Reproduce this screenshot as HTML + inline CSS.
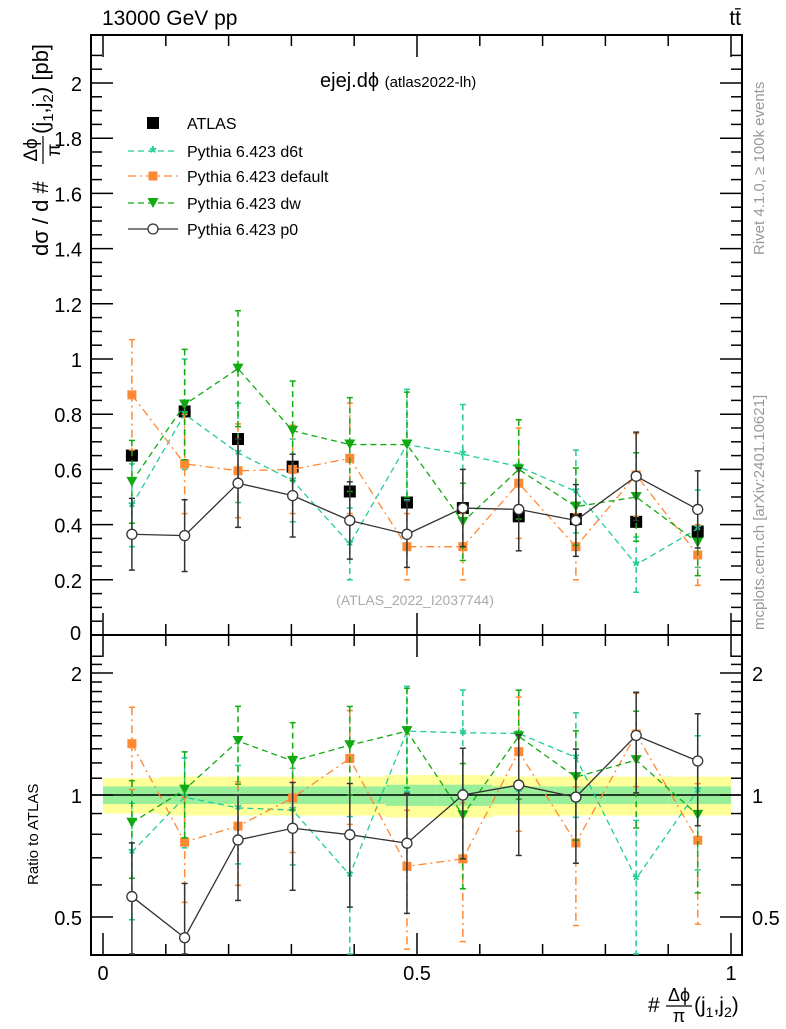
<!DOCTYPE html>
<html><head><meta charset="utf-8"><style>
body{margin:0;background:#fff;width:786px;height:1024px;overflow:hidden}
svg{font-family:"Liberation Sans",sans-serif}
</style></head><body>
<svg id="c" width="786" height="1024" xmlns="http://www.w3.org/2000/svg"></svg>
<script>
const xs=[0.046,0.13,0.215,0.302,0.393,0.484,0.573,0.662,0.753,0.849,0.947];
const atlas=[0.65,0.81,0.71,0.61,0.52,0.48,0.46,0.43,0.42,0.41,0.375];
const d6t=[0.47,0.80,0.66,0.56,0.33,0.69,0.655,0.61,0.52,0.255,0.385];
const d6tErr=[0.15,0.20,0.18,0.15,0.13,0.20,0.18,0.17,0.15,0.10,0.14];
const dflt=[0.87,0.62,0.595,0.60,0.64,0.32,0.32,0.55,0.32,0.58,0.29];
const dfltErr=[0.20,0.18,0.17,0.16,0.20,0.12,0.12,0.20,0.12,0.15,0.11];
const dw=[0.555,0.835,0.965,0.74,0.69,0.69,0.41,0.60,0.465,0.50,0.335];
const dwErr=[0.15,0.20,0.21,0.18,0.17,0.19,0.14,0.18,0.14,0.16,0.12];
const p0=[0.365,0.36,0.55,0.505,0.415,0.365,0.46,0.455,0.415,0.575,0.455];
const p0Err=[0.13,0.13,0.16,0.15,0.14,0.12,0.14,0.15,0.13,0.16,0.14];
const bandY=[0.10,0.11,0.11,0.11,0.11,0.12,0.12,0.11,0.11,0.11,0.11];
const bandG=[0.05,0.05,0.05,0.05,0.05,0.06,0.06,0.05,0.05,0.05,0.05];
const edges=[0,0.09,0.18,0.27,0.36,0.45,0.53,0.62,0.71,0.8,0.9,1.0];
const svg=document.getElementById('c');const NS='http://www.w3.org/2000/svg';
function X(v){return 103+628*v}
function Y(v){return 635-276*v}
function R(r){return 795-122*Math.log2(r)}
function el(t,a,txt,p){const e=document.createElementNS(NS,t);for(const k in a)e.setAttribute(k,a[k]);if(txt!=null)e.textContent=txt;(p||svg).appendChild(e);return e}
for(let i=0;i<xs.length;i++){
 const b1=el('rect',{x:X(edges[i]),y:R(1+bandY[i]),width:X(edges[i+1])-X(edges[i]),height:R(1-bandY[i])-R(1+bandY[i]),fill:'#ffff99'});
 
 const b2=el('rect',{x:X(edges[i]),y:R(1+bandG[i]),width:X(edges[i+1])-X(edges[i]),height:R(1-bandG[i])-R(1+bandG[i]),fill:'#99ee99'});
 
}
el('line',{x1:91,x2:742,y1:R(1),y2:R(1),stroke:'#000','stroke-width':1.5});
const f1=el('rect',{x:91,y:35,width:651,height:600,fill:'none',stroke:'#000','stroke-width':2});

const f2=el('rect',{x:91,y:635,width:651,height:320,fill:'none',stroke:'#000','stroke-width':2});

for(let k=0;k<=42;k++){const v=k*0.05;const y=Y(v);if(y<36)break;const maj=k%4==0;
 el('line',{x1:91,x2:91+(maj?22:11),y1:y,y2:y,stroke:'#000','stroke-width':1.5});
 el('line',{x1:742,x2:742-(maj?22:11),y1:y,y2:y,stroke:'#000','stroke-width':1.5});
 if(maj&&k>0){const t=el('text',{x:82,y:y+8,'text-anchor':'end','font-size':20},(+v.toFixed(1)).toString());}}
for(let k=0;k<=10;k++){const x=X(k/10);const maj=k%5==0;
 el('line',{x1:x,x2:x,y1:635,y2:635-(maj?22:11),stroke:'#000','stroke-width':1.5});
 el('line',{x1:x,x2:x,y1:955,y2:955-(maj?22:11),stroke:'#000','stroke-width':1.5});
 el('line',{x1:x,x2:x,y1:35,y2:35+(maj?22:11),stroke:'#000','stroke-width':1.5});
 el('line',{x1:x,x2:x,y1:635,y2:635+(maj?22:11),stroke:'#000','stroke-width':1.5});
 if(maj){const t=el('text',{x:x,y:980,'text-anchor':'middle','font-size':20},['0','0.5','1'][k/5]);}}
for(let r=0.4;r<=2.3;r+=0.1){const y=R(r);if(y<636||y>954)continue;const maj=Math.abs(r-0.5)<.01||Math.abs(r-1)<.01||Math.abs(r-2)<.01;
 el('line',{x1:91,x2:91+(maj?22:11),y1:y,y2:y,stroke:'#000','stroke-width':1.5});
 el('line',{x1:742,x2:742-(maj?22:11),y1:y,y2:y,stroke:'#000','stroke-width':1.5});
 if(maj){const lab=Math.abs(r-0.5)<.01?'0.5':(Math.abs(r-1)<.01?'1':'2');
 el('text',{x:82,y:y+8,'text-anchor':'end','font-size':20},lab);el('text',{x:752,y:y+8,'font-size':20},lab);}}
const series=[
 {n:'d6t',v:d6t,e:d6tErr,c:'#22cc99',dash:'6,4',m:'star'},
 {n:'default',v:dflt,e:dfltErr,c:'#ff8833',dash:'8,4,2,4',m:'sq'},
 {n:'dw',v:dw,e:dwErr,c:'#11aa11',dash:'6,4',m:'tri'},
 {n:'p0',v:p0,e:p0Err,c:'#333333',dash:'',m:'circ'}];
function marker(m,x,y,c,name){let e;
 if(m=='sq')e=el('rect',{x:x-4.5,y:y-4.5,width:9,height:9,fill:c});
 else if(m=='tri')e=el('path',{d:`M${x-5.5},${y-5}L${x+5.5},${y-5}L${x},${y+5}Z`,fill:c});
 else if(m=='circ')e=el('circle',{cx:x,cy:y,r:5,fill:'#fff',stroke:c,'stroke-width':1.3});
 else if(m=='blk')e=el('rect',{x:x-6,y:y-6,width:12,height:12,fill:'#000'});
 else e=el('text',{x:x,y:y+8,'text-anchor':'middle','font-size':18,fill:c,'font-weight':'bold'},'*');
 }
for(let i=0;i<xs.length;i++){marker('blk',X(xs[i]),Y(atlas[i]),'#000','atlas-point');}
series.forEach(s=>{
 ['main','ratio'].forEach(p=>{
  const f=p=='main'?(i=>Y(s.v[i])):(i=>R(s.v[i]/atlas[i]));
  const fe=p=='main'?((i,d)=>Y(s.v[i]+d)):((i,d)=>R(Math.max(0.3,(s.v[i]+d)/atlas[i])));
  const pts=xs.map((x,i)=>X(x)+','+f(i)).join(' ');
  const l=el('polyline',{points:pts,fill:'none',stroke:s.c,'stroke-width':1.3,'stroke-dasharray':s.dash});
  
  xs.forEach((x,i)=>{const y1=Math.max(p=='main'?36:636,fe(i,s.e[i]));const y2=Math.min(p=='main'?634:954,fe(i,-s.e[i]));
   el('line',{x1:X(x),x2:X(x),y1:y1,y2:y2,stroke:s.c,'stroke-width':1.5,'stroke-dasharray':s.dash});
   el('line',{x1:X(x)-3,x2:X(x)+3,y1:y1,y2:y1,stroke:s.c,'stroke-width':1.5});
   el('line',{x1:X(x)-3,x2:X(x)+3,y1:y2,y2:y2,stroke:s.c,'stroke-width':1.5});
   const yy=f(i);if(yy>636&&yy<954||p=='main')marker(s.m,X(x),yy,s.c,s.n+'-point');});
 });
});
const leg=[['blk','#000','ATLAS',''],['star','#22cc99','Pythia 6.423 d6t','6,4'],['sq','#ff8833','Pythia 6.423 default','8,4,2,4'],['tri','#11aa11','Pythia 6.423 dw','6,4'],['circ','#333','Pythia 6.423 p0','']];
leg.forEach((L,i)=>{const y=[123,151,176,203,229][i];
 if(i>0)el('line',{x1:128,x2:178,y1:y,y2:y,stroke:L[1],'stroke-width':1.3,'stroke-dasharray':L[3]});
 marker(L[0],153,y,L[1],'legend-marker');
 const t=el('text',{x:187,y:y+6,'font-size':16},L[2]);});
</script>
<svg width="786" height="1024" style="position:absolute;left:0;top:0" font-family="Liberation Sans, sans-serif">
<text x="102" y="25" font-size="21">13000 GeV pp</text>
<text x="741" y="25" font-size="21" text-anchor="end">tt̄</text>
<text x="320" y="87" font-size="20">ejej.dϕ <tspan font-size="15">(atlas2022-lh)</tspan></text>
<text x="415" y="605" font-size="14" fill="#aaa" text-anchor="middle">(ATLAS_2022_I2037744)</text>
<text x="70" y="640" font-size="20">0</text>
<text transform="translate(764,255) rotate(-90)" font-size="15" fill="#999">Rivet 4.1.0, ≥ 100k events</text>
<text transform="translate(764,630) rotate(-90)" font-size="15" fill="#999">mcplots.cern.ch [arXiv:2401.10621]</text>
<g transform="translate(48,256) rotate(-90)">
 <text x="0" y="0" font-size="22">dσ / d #</text>
 <text x="106" y="-11" font-size="19" text-anchor="middle">Δϕ</text>
 <line x1="92" x2="120" y1="-5" y2="-5" stroke="#000" stroke-width="1.2"/>
 <text x="106" y="12" font-size="19" text-anchor="middle">π</text>
 <text x="122" y="0" font-size="22">(j<tspan dy="5" font-size="15">1</tspan><tspan dy="-5">,j</tspan><tspan dy="5" font-size="15">2</tspan><tspan dy="-5">) [pb]</tspan></text>
</g>
<text transform="translate(38,885) rotate(-90)" font-size="15">Ratio to ATLAS</text>
<g>
 <text x="648" y="1012" font-size="21">#</text>
 <text x="679" y="1001" font-size="18" text-anchor="middle">Δϕ</text>
 <line x1="666" x2="692" y1="1006" y2="1006" stroke="#000" stroke-width="1.2"/>
 <text x="679" y="1022" font-size="18" text-anchor="middle">π</text>
 <text x="694" y="1012" font-size="21">(j<tspan dy="5" font-size="14">1</tspan><tspan dy="-5">,j</tspan><tspan dy="5" font-size="14">2</tspan><tspan dy="-5">)</tspan></text>
</g>
</svg>
</body></html>
